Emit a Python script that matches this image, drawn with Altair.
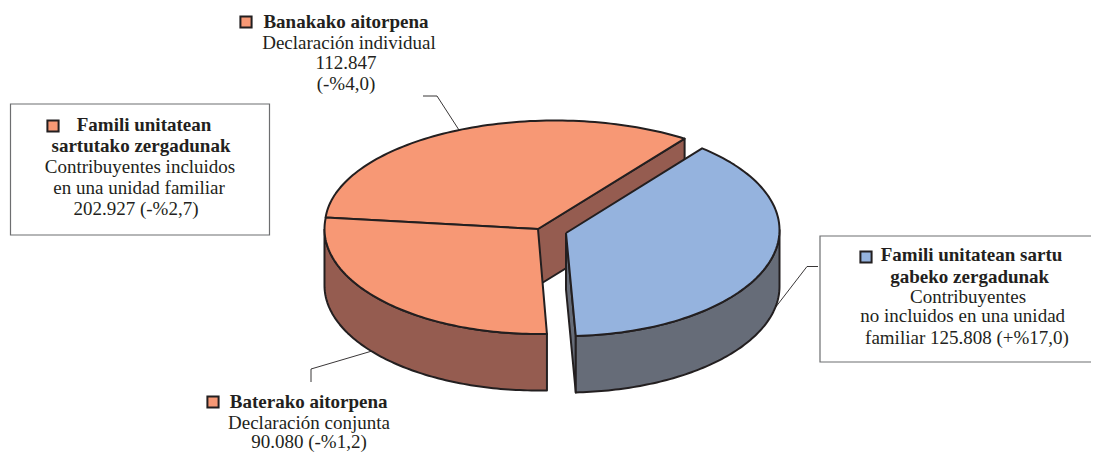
import numpy as np
import pandas as pd
import altair as alt

# --- values
slice_names = ["Banakako aitorpena", "Baterako aitorpena", "Famili unitatean sartu gabeko zergadunak"]
slice_values = [112847, 90080, 125808]

# --- label text, one row per line
label_text = [
    "Banakako aitorpena", "Declaración individual", "112.847", "(-%4,0)",
    "Famili unitatean", "sartutako zergadunak", "Contribuyentes incluidos", "en una unidad familiar", "202.927 (-%2,7)",
    "Famili unitatean sartu", "gabeko zergadunak", "Contribuyentes", "no incluidos en una unidad", "familiar 125.808 (+%17,0)",
    "Baterako aitorpena", "Declaración conjunta", "90.080 (-%1,2)",
]
label_bold = [1, 0, 0, 0, 1, 1, 0, 0, 0, 1, 1, 0, 0, 0, 1, 0, 0]
label_x = [346, 349, 346, 346, 144, 141, 140, 139, 136, 971.5, 969.7, 968, 962.7, 967, 308.7, 309, 309]
label_y = [22, 43, 63, 84, 125, 146, 167, 188, 209, 255, 277, 297, 316, 338, 402, 423, 442]

# --- layout
W, H = 1083, 444
ORANGE, BROWN, BLUE, SLATE = "#F79875", "#955C50", "#95B3DE", "#666C78"
INK, FRAME = "#231F20", "#6D6E70"
DEPTH = 56.5
APEX_L, APEX_R = (538, 229), (566, 233)
# ellipse of each top face: centre x, centre y, semi axes
E_TOP = (555, 225, 230, 104.5)
E_BOTTOM = (538, 229, 213.5, 105)
E_BLUE = (566, 230, 213.5, 106)

total = sum(slice_values)
sweeps = [v / total * 360 for v in slice_values]
top_start = 55.7
top_end = top_start + sweeps[0] * 0.973
bottom_end = 272.4
bottom_start = bottom_end - sweeps[1]
blue_end = 50.4
blue_start = blue_end - sweeps[2]


def arc(e, d0, d1, drop=0, n=90):
    t = np.radians(np.linspace(d0, d1, n))
    return list(zip(e[0] + e[2] * np.cos(t), e[1] - e[3] * np.sin(t) + drop))


x_scale = alt.Scale(domain=[8, 8 + W], range=[0, W])
y_scale = alt.Scale(domain=[8, 8 + H], range=[0, H])


def poly(points, fill, width=2):
    pts = list(points) + [points[0]]
    df = pd.DataFrame(pts, columns=["x", "y"])
    df["i"] = range(len(df))
    return alt.Chart(df).mark_line(fill=fill, stroke=INK, strokeWidth=width, strokeJoin="round").encode(
        x=alt.X("x:Q", scale=x_scale, axis=None),
        y=alt.Y("y:Q", scale=y_scale, axis=None),
        order="i:Q",
    )


def leader(points):
    df = pd.DataFrame(points, columns=["x", "y"])
    df["i"] = range(len(df))
    return alt.Chart(df).mark_line(stroke=INK, strokeWidth=0.9).encode(
        x=alt.X("x:Q", scale=x_scale, axis=None),
        y=alt.Y("y:Q", scale=y_scale, axis=None),
        order="i:Q",
    )


def box(x0, x1, y0, y1):
    df = pd.DataFrame({"x": [x0], "x2": [x1], "y": [y0], "y2": [y1]})
    return alt.Chart(df).mark_rect(fill="white", stroke=FRAME, strokeWidth=1.2, clip=False).encode(
        x=alt.X("x:Q", scale=x_scale, axis=None), x2="x2:Q",
        y=alt.Y("y:Q", scale=y_scale, axis=None), y2="y2:Q",
    )


def wall(e, d0, d1, fill):
    return poly(arc(e, d0, d1) + arc(e, d1, d0, DEPTH), fill)


def cut(apex, e, d, fill):
    p = arc(e, d, d, n=1)[0]
    return poly([apex, p, (p[0], p[1] + DEPTH), (apex[0], apex[1] + DEPTH)], fill)


layers = [box(10.5, 269.5, 104, 235), box(820, 1110, 236, 362)]

# leaders
layers += [
    leader([(423, 96), (437, 96), (459, 130)]),
    leader([(311, 382), (311, 369), (372, 351)]),
    leader([(775, 308), (807, 266.5), (818, 266.5)]),
]

# left block: cut wall, outer wall, tops
layers.append(cut(APEX_L, E_TOP, top_start, BROWN))
layers.append(wall(E_BOTTOM, 180, bottom_end, BROWN))
layers.append(poly([APEX_L] + arc(E_TOP, top_start, top_end), ORANGE))
layers.append(poly([APEX_L] + arc(E_BOTTOM, bottom_start, bottom_end), ORANGE))

# right block: cut wall, outer wall, top
layers.append(cut(APEX_R, E_BLUE, blue_start, SLATE))
layers.append(wall(E_BLUE, blue_start, 0, SLATE))
layers.append(poly([APEX_R] + arc(E_BLUE, blue_start, blue_end), BLUE))

# legend swatches
swatch = pd.DataFrame({"x": [246, 53, 866, 213], "y": [22, 126, 257, 402], "c": [ORANGE, ORANGE, BLUE, ORANGE]})
layers.append(alt.Chart(swatch).mark_point(shape="square", filled=True, size=125, stroke=INK, strokeWidth=2, opacity=1).encode(
    x=alt.X("x:Q", scale=x_scale, axis=None),
    y=alt.Y("y:Q", scale=y_scale, axis=None),
    fill=alt.Fill("c:N", scale=None),
))

# text
labels = pd.DataFrame({"t": label_text, "b": label_bold, "x": label_x, "y": label_y})
for flag, weight, size in [(1, "bold", 19), (0, "normal", 19)]:
    layers.append(alt.Chart(labels[labels.b == flag]).mark_text(
        font="Liberation Serif", fontSize=size, fontWeight=weight, color=INK, align="center", baseline="middle",
    ).encode(
        x=alt.X("x:Q", scale=x_scale, axis=None),
        y=alt.Y("y:Q", scale=y_scale, axis=None),
        text="t:N",
    ))

chart = alt.layer(*layers).properties(
    width=W, height=H, padding=0, autosize=alt.AutoSizeParams(type="none"),
).configure_view(stroke=None)

chart.save("out.html", embed_options={"renderer": "svg", "actions": False})
